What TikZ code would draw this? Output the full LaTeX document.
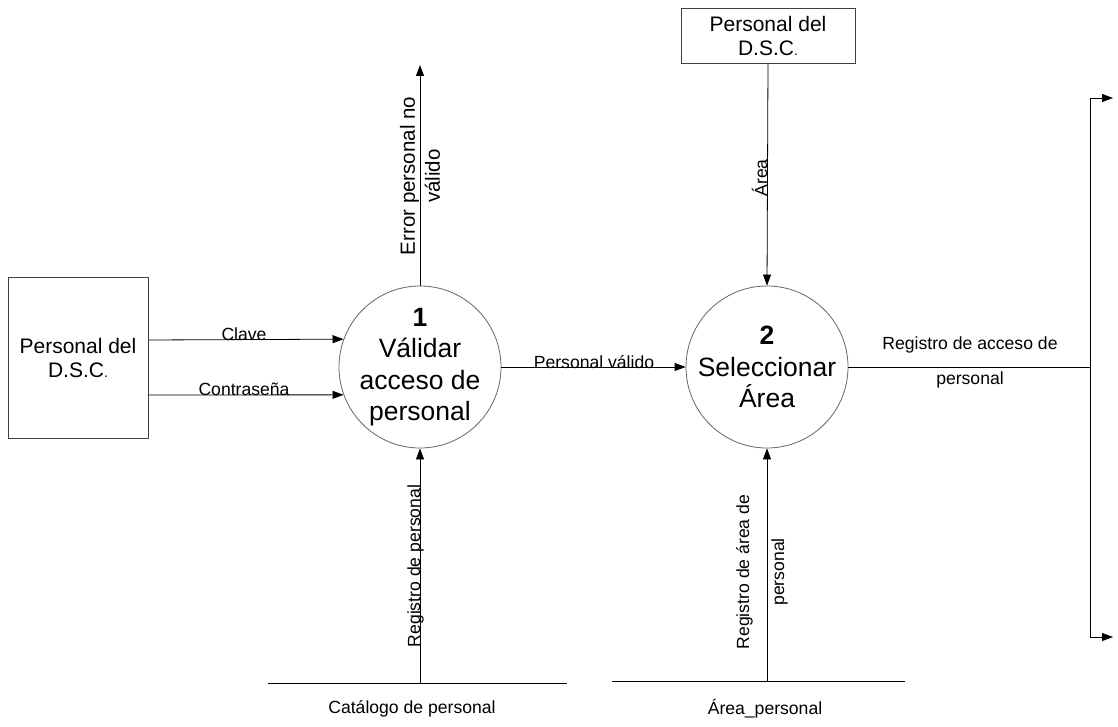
\documentclass[tikz,border=0pt]{standalone}
\usepackage{fontspec}
\setmainfont{Liberation Sans}
\usetikzlibrary{arrows.meta}
\begin{document}
\begin{tikzpicture}[x=1pt,y=-1pt,
  flow/.style={draw=black, line width=0.8pt, -{Triangle[length=11pt,width=8pt]}},
  plain/.style={draw=black, line width=0.8pt},
  entity/.style={draw=black!75, line width=0.8pt, inner sep=0pt, align=center,
    font=\fontsize{21}{24}\selectfont},
  process/.style={circle, draw=black!60, line width=0.8pt, minimum size=162pt, inner sep=0pt},
  ptext/.style={align=center, font=\fontsize{26.5}{31.5}\selectfont, inner sep=0pt},
  lbl/.style={font=\fontsize{17.6}{20}\selectfont, inner sep=0pt},
  lbltwo/.style={font=\fontsize{17.6}{35}\selectfont, inner sep=0pt, align=center},
]
\useasboundingbox (0,0) rectangle (1118,727);

% external entities
\node[entity, minimum width=140pt, minimum height=161pt] (e1) at (78,357.5)
  {Personal del\\D.S.C{\fontsize{14}{14}\selectfont .}};
\node[entity, minimum width=174pt, minimum height=55pt] (e2) at (768,35.5)
  {Personal del\\D.S.C{\fontsize{14}{14}\selectfont .}};

% processes
\node[process] (p1) at (420,367) {};
\node[ptext] (p1t) at (p1.center) {\textbf{1}\\Válidar\\acceso de\\personal};
\node[process] (p2) at (767,367) {};
\node[ptext] (p2t) at (p2.center) {\textbf{2}\\Seleccionar\\Área};

% data stores
\coordinate (s1a) at (268,683);
\coordinate (s1b) at (567,683);
\coordinate (s1) at (420,683);
\draw[plain] (s1a) -- (s1b);
\node[lbl] (s1t) at (412,709) {Catálogo de personal};
\coordinate (s2a) at (612,681);
\coordinate (s2b) at (905,681);
\coordinate (s2) at (767,681);
\draw[plain] (s2a) -- (s2b);
\node[lbl] (s2t) at (765,709) {Área\_personal};

% flows into process 1
\draw[flow] (e1.east |- 0,340) -- (p1.160.53);
\node[lbl, anchor=base] (fclave) at (244,340) {Clave};
\draw[flow] (e1.east |- 0,395) -- (p1.200.2);
\node[lbl, anchor=base] (fcontra) at (244,395) {Contraseña};

\coordinate (err) at (420,65);
\draw[flow] (p1.north) -- (err);
\node[font=\fontsize{20.5}{25}\selectfont, align=center, rotate=90, inner sep=0pt]
  (ferr) at (420,176) {Error personal no\\válido};

\draw[flow] (s1) -- (p1.south);
\node[lbl, rotate=90, anchor=base] (freg) at (420,566) {Registro de personal};

% flows of process 2
\draw[flow] (p1.east) -- (p2.west);
\node[lbl, anchor=base] (fval) at (594,368) {Personal válido};

\draw[flow] (e2.south) -- (p2.north);
\node[lbl, rotate=90, anchor=base] (farea) at (767,178) {Área};

\draw[flow] (s2) -- (p2.south);
\node[lbltwo, rotate=90] (fregarea) at (762,572) {Registro de área de\\personal};

% output branch
\coordinate (bj) at (1090,367);
\coordinate (bt) at (1090,98);
\coordinate (bb) at (1090,637);
\coordinate (ot) at (1113,98);
\coordinate (ob) at (1113,637);
\draw[plain] (p2.east) -- (bj);
\draw[plain] (bt) -- (bb);
\draw[flow] (bt) -- (ot);
\draw[flow] (bb) -- (ob);
\node[lbltwo] (facc) at (970,362) {Registro de acceso de\\personal};
\end{tikzpicture}
\end{document}
